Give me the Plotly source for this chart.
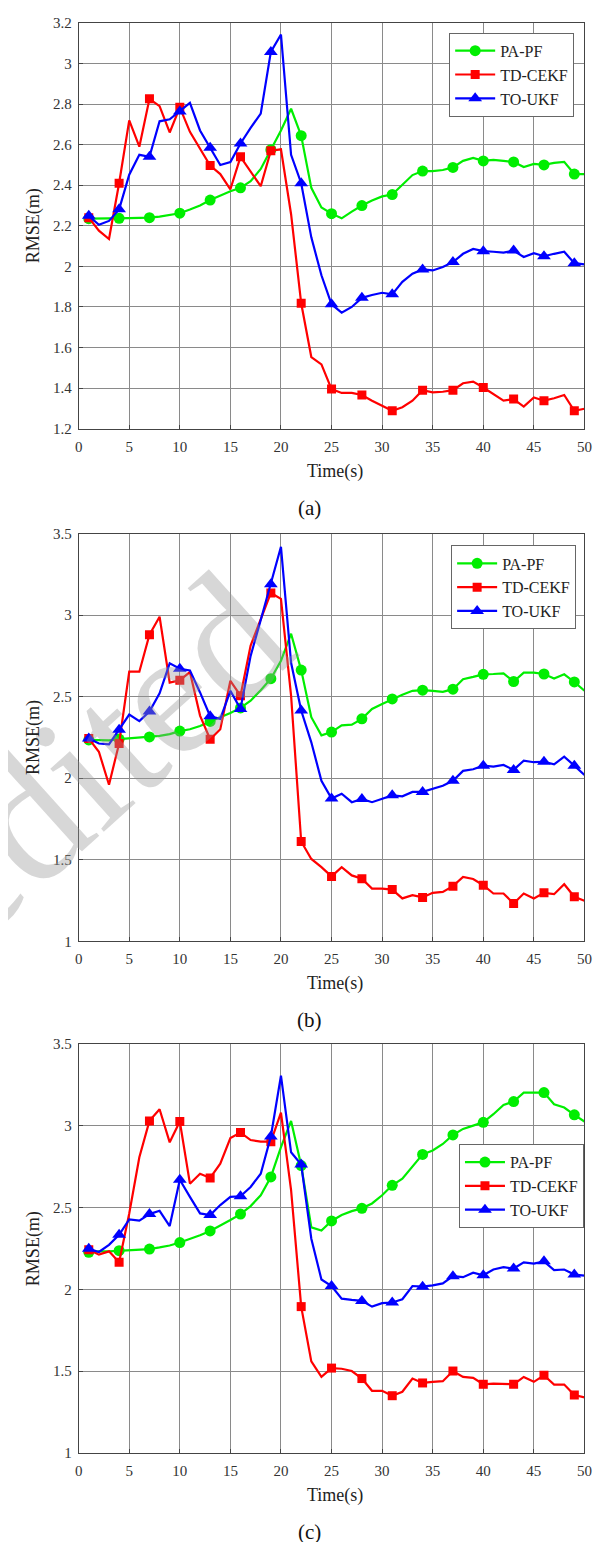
import plotly.graph_objects as go

# ---------------- data ----------------
time_s = list(range(1, 51))
marker_step = 3  # markers drawn at t = 1, 4, 7, ...

series_names = ["PA-PF", "TD-CEKF", "TO-UKF"]

a_papf = [2.235, 2.235, 2.235, 2.237, 2.238, 2.239, 2.24, 2.245, 2.255, 2.262,
          2.28, 2.30, 2.327, 2.35, 2.37, 2.387, 2.42, 2.48, 2.575, 2.67,
          2.777, 2.644, 2.387, 2.29, 2.26, 2.237, 2.27, 2.30, 2.325, 2.345,
          2.354, 2.40, 2.45, 2.47, 2.47, 2.475, 2.488, 2.52, 2.535, 2.52,
          2.525, 2.52, 2.515, 2.49, 2.505, 2.50, 2.51, 2.515, 2.455, 2.455]
a_tdcekf = [2.24, 2.176, 2.135, 2.41, 2.72, 2.59, 2.826, 2.79, 2.66, 2.784,
            2.663, 2.58, 2.497, 2.455, 2.38, 2.54, 2.468, 2.395, 2.57, 2.577,
            2.257, 1.818, 1.553, 1.517, 1.395, 1.376, 1.376, 1.366, 1.338, 1.314,
            1.288, 1.306, 1.338, 1.39, 1.379, 1.382, 1.39, 1.424, 1.432, 1.403,
            1.371, 1.338, 1.346, 1.309, 1.354, 1.338, 1.35, 1.366, 1.288, 1.298]
a_toukf = [2.249, 2.205, 2.224, 2.281, 2.452, 2.55, 2.54, 2.715, 2.725, 2.764,
           2.806, 2.67, 2.585, 2.50, 2.514, 2.606, 2.683, 2.753, 3.057, 3.143,
           2.55, 2.41, 2.143, 1.956, 1.813, 1.772, 1.80, 1.845, 1.859, 1.87,
           1.862, 1.924, 1.964, 1.985, 1.98, 1.997, 2.021, 2.062, 2.086, 2.075,
           2.072, 2.068, 2.078, 2.046, 2.065, 2.05, 2.062, 2.072, 2.016, 2.01]

b_papf = [2.235, 2.232, 2.232, 2.24, 2.245, 2.25, 2.253, 2.26, 2.27, 2.289,
          2.30, 2.32, 2.348, 2.374, 2.40, 2.431, 2.475, 2.54, 2.61, 2.72,
          2.886, 2.663, 2.374, 2.263, 2.283, 2.324, 2.328, 2.364, 2.425, 2.455,
          2.486, 2.512, 2.536, 2.54, 2.536, 2.53, 2.546, 2.607, 2.621, 2.637,
          2.639, 2.643, 2.593, 2.647, 2.647, 2.639, 2.611, 2.637, 2.59, 2.536]
b_tdcekf = [2.243, 2.162, 1.96, 2.213, 2.653, 2.653, 2.88, 2.99, 2.586, 2.60,
            2.651, 2.384, 2.239, 2.30, 2.597, 2.506, 2.813, 2.97, 3.136, 3.10,
            2.506, 1.612, 1.505, 1.455, 1.398, 1.455, 1.404, 1.384, 1.323, 1.323,
            1.317, 1.263, 1.283, 1.269, 1.297, 1.303, 1.338, 1.394, 1.382, 1.344,
            1.293, 1.293, 1.232, 1.293, 1.263, 1.297, 1.289, 1.35, 1.273, 1.249]
b_toukf = [2.243, 2.213, 2.207, 2.297, 2.39, 2.35, 2.409, 2.52, 2.704, 2.671,
           2.661, 2.526, 2.38, 2.364, 2.536, 2.425, 2.75, 2.97, 3.19, 3.419,
           2.708, 2.415, 2.22, 1.984, 1.875, 1.905, 1.853, 1.873, 1.853, 1.873,
           1.895, 1.889, 1.916, 1.916, 1.934, 1.954, 1.984, 2.045, 2.055, 2.077,
           2.071, 2.081, 2.051, 2.108, 2.098, 2.101, 2.085, 2.132, 2.077, 2.02]

c_papf = [2.227, 2.233, 2.233, 2.237, 2.239, 2.241, 2.247, 2.257, 2.269, 2.287,
          2.308, 2.332, 2.358, 2.39, 2.425, 2.461, 2.51, 2.576, 2.688, 2.87,
          3.031, 2.758, 2.38, 2.36, 2.419, 2.455, 2.479, 2.496, 2.526, 2.576,
          2.637, 2.678, 2.749, 2.826, 2.85, 2.89, 2.945, 2.982, 3.002, 3.022,
          3.072, 3.129, 3.149, 3.204, 3.204, 3.204, 3.133, 3.113, 3.068, 3.027]
c_tdcekf = [2.243, 2.213, 2.233, 2.166, 2.465, 2.809, 3.031, 3.102, 2.90, 3.027,
            2.647, 2.708, 2.682, 2.769, 2.926, 2.96, 2.914, 2.904, 2.904, 3.082,
            2.607, 1.895, 1.56, 1.465, 1.519, 1.515, 1.501, 1.455, 1.38, 1.38,
            1.35, 1.374, 1.455, 1.428, 1.435, 1.439, 1.501, 1.465, 1.459, 1.42,
            1.424, 1.424, 1.42, 1.465, 1.435, 1.475, 1.418, 1.418, 1.354, 1.34]
c_toukf = [2.249, 2.229, 2.273, 2.334, 2.429, 2.421, 2.461, 2.481, 2.388, 2.671,
           2.566, 2.465, 2.455, 2.516, 2.566, 2.57, 2.627, 2.708, 2.936, 3.308,
           2.839, 2.764, 2.31, 2.061, 2.021, 1.944, 1.936, 1.93, 1.895, 1.916,
           1.92, 1.94, 2.021, 2.017, 2.025, 2.037, 2.081, 2.075, 2.102, 2.087,
           2.122, 2.136, 2.128, 2.166, 2.158, 2.172, 2.118, 2.122, 2.091, 2.085]

x_ticks = [0, 5, 10, 15, 20, 25, 30, 35, 40, 45, 50]
a_yticks = [1.2, 1.4, 1.6, 1.8, 2.0, 2.2, 2.4, 2.6, 2.8, 3.0, 3.2]
a_yticklabels = ["1.2", "1.4", "1.6", "1.8", "2", "2.2", "2.4", "2.6", "2.8", "3", "3.2"]
bc_yticks = [1.0, 1.5, 2.0, 2.5, 3.0, 3.5]
bc_yticklabels = ["1", "1.5", "2", "2.5", "3", "3.5"]
panel_labels = ["(a)", "(b)", "(c)"]

panels = [
    dict(data=[a_papf, a_tdcekf, a_toukf], yr=[1.2, 3.2], yt=a_yticks, ytl=a_yticklabels),
    dict(data=[b_papf, b_tdcekf, b_toukf], yr=[1.0, 3.5], yt=bc_yticks, ytl=bc_yticklabels),
    dict(data=[c_papf, c_tdcekf, c_toukf], yr=[1.0, 3.5], yt=bc_yticks, ytl=bc_yticklabels),
]

# ---------------- styling ----------------
W, H = 606, 1542
FONT = "Liberation Serif"
colors = ["#00ee00", "#ff0000", "#0000ff"]
symbols = ["circle", "square", "triangle-up"]
msizes = [11, 9, 12]

x_left, x_right = 68, 584
panel_px = [(7, 417), (523, 935), (1039, 1452)]
legend_px = [(446, 17), (448, 535), (456, 1140)]

def py(p):
    return 1 - p / H

fig = go.Figure()
layout = dict(
    width=W, height=H, margin=dict(l=0, r=0, t=0, b=0),
    paper_bgcolor="white", plot_bgcolor="white",
    font=dict(family=FONT, size=15, color="#222"),
    annotations=[], showlegend=True,
)

# faint watermark visible in the middle panel (drawn first)
layout["annotations"].append(dict(
    text="Unedited", x=4 / W, y=py(822), xref="paper", yref="paper",
    xanchor="center", yanchor="middle",
    showarrow=False, textangle=-42,
    font=dict(family=FONT, size=180, color="rgba(150,150,150,0.38)")))

for pi, (panel, (top, bot)) in enumerate(zip(panels, panel_px)):
    sfx = "" if pi == 0 else str(pi + 1)
    xref, yref = "x" + sfx, "y" + sfx
    lg = "legend" + sfx
    for si in range(3):
        ys = panel["data"][si]
        fig.add_trace(go.Scatter(
            x=time_s, y=ys, mode="lines", xaxis=xref, yaxis=yref,
            line=dict(color=colors[si], width=2.2), showlegend=False,
            hoverinfo="skip"))
        fig.add_trace(go.Scatter(
            x=time_s[::marker_step], y=ys[::marker_step], mode="markers",
            xaxis=xref, yaxis=yref, showlegend=False,
            marker=dict(color=colors[si], symbol=symbols[si], size=msizes[si],
                        line=dict(width=0))))
    for si in range(3):
        fig.add_trace(go.Scatter(
            x=[None], y=[None], mode="lines+markers", name=series_names[si],
            xaxis=xref, yaxis=yref, legend=lg,
            line=dict(color=colors[si], width=2.2),
            marker=dict(color=colors[si], symbol=symbols[si], size=msizes[si])))

    layout["xaxis" + sfx] = dict(
        domain=[x_left / W, x_right / W], anchor=yref, range=[0, 50],
        tickvals=x_ticks, ticks="inside", ticklen=4, tickcolor="#444",
        showgrid=True, gridcolor="#8a8a8a", gridwidth=1,
        showline=True, linecolor="#444", linewidth=1, mirror=True,
        zeroline=False, tickfont=dict(size=15, family=FONT, color="#333"),
        ticklabelstandoff=4)
    layout["yaxis" + sfx] = dict(
        domain=[py(bot), py(top)], anchor=xref, range=panel["yr"],
        tickvals=panel["yt"], ticktext=panel["ytl"], ticks="inside", ticklen=4,
        tickcolor="#444", showgrid=True, gridcolor="#8a8a8a", gridwidth=1,
        showline=True, linecolor="#444", linewidth=1, mirror=True,
        zeroline=False, tickfont=dict(size=15, family=FONT, color="#333"),
        ticklabelstandoff=3)
    lx, ly = legend_px[pi]
    layout[lg] = dict(
        x=lx / W, y=py(ly), xanchor="left", yanchor="top",
        bgcolor="white", bordercolor="#666", borderwidth=1,
        font=dict(family=FONT, size=16, color="#222"),
        itemwidth=40, tracegroupgap=0)
    # axis titles and panel labels
    layout["annotations"].append(dict(
        text="Time(s)", x=((x_left + x_right) / 2 + 4) / W, y=py(bot + 43),
        xref="paper", yref="paper", xanchor="center", yanchor="middle",
        showarrow=False, font=dict(family=FONT, size=18, color="#222")))
    layout["annotations"].append(dict(
        text="RMSE(m)", x=22 / W, y=py((top + bot) / 2), textangle=-90,
        xref="paper", yref="paper", xanchor="center", yanchor="middle",
        showarrow=False, font=dict(family=FONT, size=18, color="#222")))
    layout["annotations"].append(dict(
        text=panel_labels[pi], x=303 / W, y=py(bot + 80),
        xref="paper", yref="paper", xanchor="center", yanchor="middle",
        showarrow=False, font=dict(family=FONT, size=21, color="#111")))

fig.update_layout(**layout)
fig.write_html("out.html")
